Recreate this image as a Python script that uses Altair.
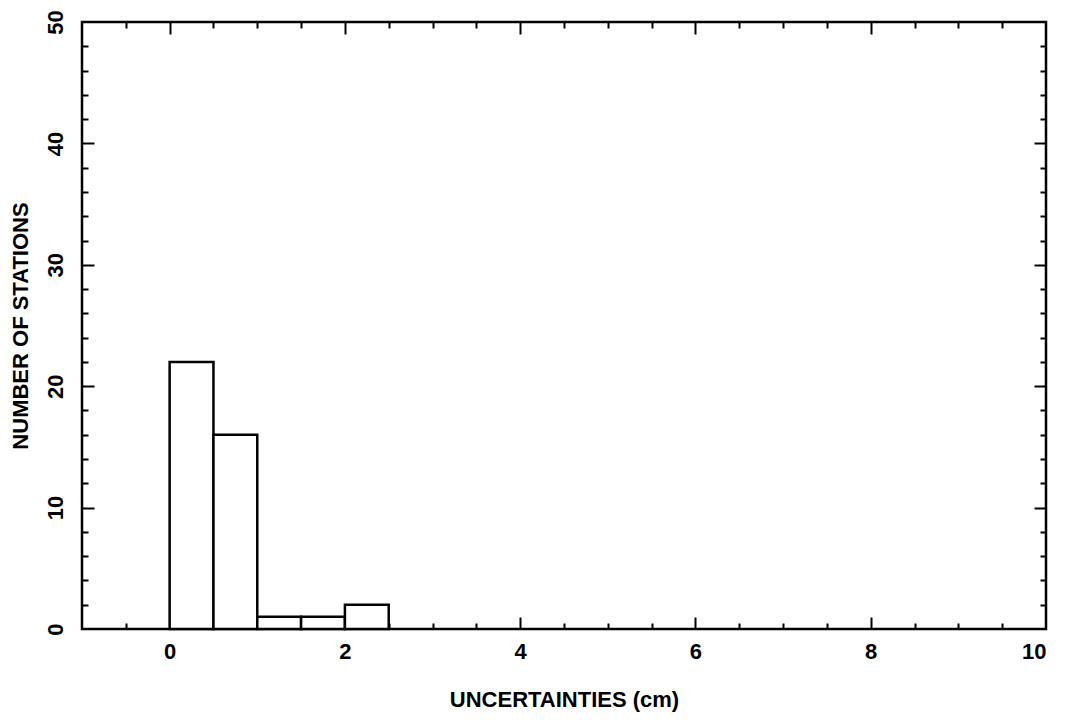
import altair as alt
import pandas as pd

# histogram bins (cm) and counts
bin_lo = [0.0, 0.5, 1.0, 1.5, 2.0]
bin_hi = [0.5, 1.0, 1.5, 2.0, 2.5]
counts = [22, 16, 1, 1, 2]

x_labels = [0, 2, 4, 6, 8, 10]
x_major = [0, 2, 4, 6, 8]
x_minor = [-0.5, 0.5, 1, 1.5, 2.5, 3, 3.5, 4.5, 5, 5.5, 6.5, 7, 7.5, 8.5, 9, 9.5]
y_labels = [0, 10, 20, 30, 40, 50]
y_major = [10, 20, 30, 40]
y_minor = [2, 4, 6, 8, 12, 14, 16, 18, 22, 24, 26, 28, 32, 34, 36, 38, 42, 44, 46, 48]

df = pd.DataFrame({"lo": bin_lo, "hi": bin_hi, "n": counts})

FONT = "Liberation Sans"
xs = alt.Scale(domain=[-1, 10], nice=False, zero=False)
ys = alt.Scale(domain=[0, 50], nice=False)

MAJ = 12
MIN = 6


def tick_axis(values, orient, size):
    return alt.Axis(values=values, orient=orient, offset=-size, tickSize=size,
                    tickWidth=2, tickColor="black", labels=False, domain=False,
                    grid=False, title=None)


bars = alt.Chart(df).mark_rect(fill="white", stroke="black", strokeWidth=2.5).encode(
    x=alt.X("lo:Q", scale=xs, axis=alt.Axis(
        values=x_labels, orient="bottom", ticks=False, domain=False, grid=False,
        labelFont=FONT, labelFontSize=22, labelFontWeight="bold",
        labelColor="black", labelPadding=12,
        title="UNCERTAINTIES (cm)", titleFont=FONT, titleFontSize=22,
        titleFontWeight="bold", titleColor="black", titlePadding=27)),
    x2="hi:Q",
    y=alt.Y("n:Q", scale=ys, axis=alt.Axis(
        values=y_labels, orient="left", ticks=False, domain=False, grid=False,
        labelFont=FONT, labelFontSize=22, labelFontWeight="bold",
        labelColor="black", labelPadding=15, labelAngle=270,
        title="NUMBER OF STATIONS", titleFont=FONT, titleFontSize=22,
        titleFontWeight="bold", titleColor="black", titlePadding=12)),
    y2=alt.datum(0),
)


def tick_layer(xv, xo, yv, yo, size):
    return alt.Chart(df).mark_point(opacity=0).encode(
        x=alt.X("lo:Q", scale=xs, axis=tick_axis(xv, xo, size)),
        y=alt.Y("n:Q", scale=ys, axis=tick_axis(yv, yo, size)),
    )


layers = [
    bars,
    tick_layer(x_major, "bottom", y_major, "left", MAJ),
    tick_layer(x_minor, "bottom", y_minor, "left", MIN),
    tick_layer(x_major, "top", y_major, "right", MAJ),
    tick_layer(x_minor, "top", y_minor, "right", MIN),
]

chart = alt.layer(*layers).resolve_axis(x="independent", y="independent").properties(
    width=964, height=607,
    autosize=alt.AutoSizeParams(type="none"),
    padding={"left": 74, "top": 14, "right": 10, "bottom": 90},
    background="white",
).configure_view(stroke="black", strokeWidth=2.5)

chart.save("out.html", embed_options={"renderer": "svg", "actions": False})
